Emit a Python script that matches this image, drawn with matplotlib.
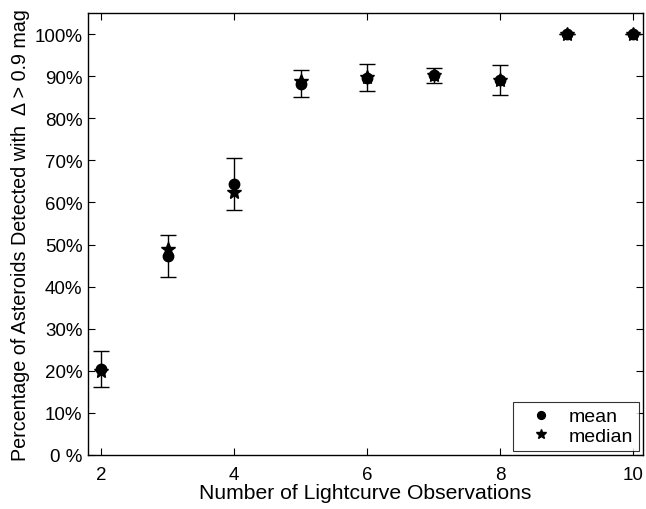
import matplotlib
matplotlib.use("Agg")
import matplotlib.pyplot as plt
from matplotlib.ticker import FixedLocator

n_obs = [2, 3, 4, 5, 6, 7, 8, 9, 10]
mean_pct = [20.4, 47.3, 64.4, 88.1, 89.5, 90.3, 89.1, 100.0, 100.0]
median_pct = [20.0, 48.9, 62.5, 88.8, 89.7, 90.2, 89.0, 100.0, 100.0]
err_low = [16.2, 42.3, 58.2, 85.0, 86.4, 88.4, 85.5, 100.0, 100.0]
err_high = [24.7, 52.2, 70.5, 91.4, 92.9, 91.9, 92.6, 100.0, 100.0]
ytick_vals = [0, 10, 20, 30, 40, 50, 60, 70, 80, 90, 100]
ytick_labels = ["0 %", "10%", "20%", "30%", "40%", "50%", "60%", "70%", "80%", "90%", "100%"]
xtick_vals = [2, 4, 6, 8, 10]

plt.rcParams['font.family'] = ['Liberation Sans', 'DejaVu Sans']

fig = plt.figure(figsize=(6.46, 5.10), dpi=100)
ax = fig.add_axes([88/646, 1 - 456/510, (643-88)/646, (456-14)/510])

yerr = [[m - lo for m, lo in zip(mean_pct, err_low)],
        [hi - m for m, hi in zip(mean_pct, err_high)]]
ax.errorbar(n_obs, mean_pct, yerr=yerr, fmt='none', ecolor='black',
            elinewidth=1.0, capsize=6, capthick=1.0, zorder=2)
ax.plot(n_obs, mean_pct, 'o', color='black', markersize=7.5, label='mean', zorder=3)
ax.plot(n_obs, median_pct, '*', color='black', markersize=10, label='median', zorder=4)

ax.set_xlim(1.8, 10.15)
ax.set_ylim(0, 105)
ax.xaxis.set_major_locator(FixedLocator(xtick_vals))
ax.set_xticklabels([str(v) for v in xtick_vals])
ax.yaxis.set_major_locator(FixedLocator(ytick_vals))
ax.set_yticklabels(ytick_labels)
ax.tick_params(direction='in', top=True, right=True, length=5, width=0.8,
               labelsize=13.5, colors='black')
ax.tick_params(axis='x', pad=8)
ax.tick_params(axis='y', pad=4)
for s in ax.spines.values():
    s.set_linewidth(1.0)

ax.set_xlabel("Number of Lightcurve Observations", fontsize=15.2, labelpad=0)
ax.set_ylabel("Percentage of Asteroids Detected with  \u0394 > 0.9 mag", fontsize=14.2, labelpad=3)

leg = ax.legend(loc='lower right', fontsize=14, frameon=True, fancybox=False,
                edgecolor='black', borderpad=0.28, handletextpad=0.3,
                labelspacing=0.12, borderaxespad=0.22, markerscale=0.75,
                handlelength=2.3)
leg.get_frame().set_linewidth(0.8)

fig.savefig("out.png", dpi=100)
